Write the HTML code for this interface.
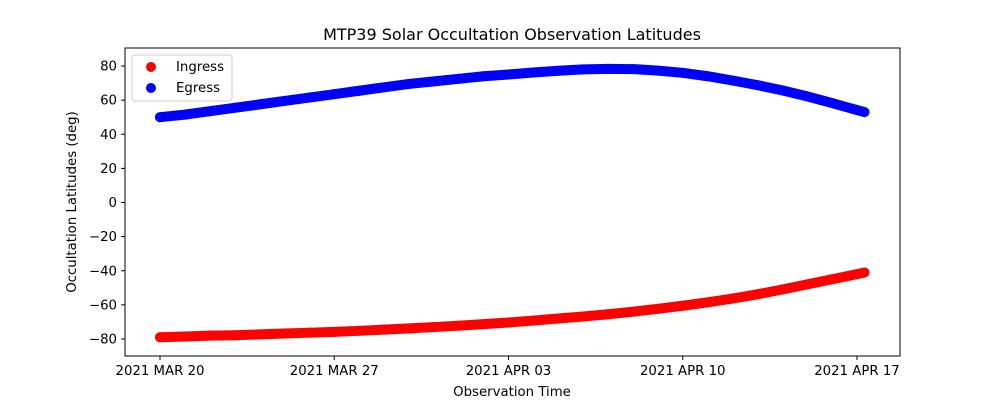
<!DOCTYPE html>
<html><head><meta charset="utf-8"><style>
body{margin:0;background:#fff;}
svg text{font-family:"DejaVu Sans","Liberation Sans",sans-serif;}
</style></head><body>
<svg id="chart" width="1000" height="400" xmlns="http://www.w3.org/2000/svg">
<rect width="1000" height="400" fill="#fff"/>
<text x="512" y="40" font-size="16" text-anchor="middle">MTP39 Solar Occultation Observation Latitudes</text>
<g id="plot"></g>
<rect x="125" y="48" width="775" height="308" fill="none" stroke="#000" stroke-width="1"/>
<g id="axes"></g>
<text x="512" y="396" font-size="13.3" text-anchor="middle">Observation Time</text>
<text transform="translate(76,202) rotate(-90)" font-size="13.3" text-anchor="middle">Occultation Latitudes (deg)</text>
<g>
<rect x="132" y="55" width="100" height="46" fill="#fff" stroke="#ccc" rx="3"/>
<g><circle cx="151" cy="67" r="5" fill="red"/><text x="176" y="71" font-size="13.3">Ingress</text></g>
<g><circle cx="151" cy="88" r="5" fill="blue"/><text x="176" y="92" font-size="13.3">Egress</text></g>
</g>
</svg>
<script>
const days=[0,1,2,3,4,5,6,7,8,9,10,11,12,13,14,15,16,17,18,19,20,21,22,23,24,25,26,27,28,28.3];
const egress=[50,51.5,53.5,55.5,57.5,59.5,61.5,63.5,65.5,67.5,69.5,71,72.5,74,75,76.2,77.2,78,78.3,78.2,77.3,76,74,71.5,68.8,65.7,62.2,58.3,54.2,53];
const ingress=[-79,-78.5,-78,-77.8,-77.3,-76.8,-76.3,-75.8,-75.2,-74.5,-73.8,-73,-72.2,-71.3,-70.3,-69.2,-68,-66.8,-65.5,-64,-62.3,-60.5,-58.5,-56.3,-53.8,-51,-48,-45,-42,-41];
const xTickDays=[0,7,14,21,28];
const xTickLabels=["2021 MAR 20","2021 MAR 27","2021 APR 03","2021 APR 10","2021 APR 17"];
const yTicks=[-80,-60,-40,-20,0,20,40,60,80];
const NS="http://www.w3.org/2000/svg";
const xs=d=>160+d*(857-160)/28;
const ys=v=>202.5-v*(273/160);
const plot=document.getElementById('plot'),axes=document.getElementById('axes');
function series(vals,color,name){
  const pts=days.map((d,i)=>xs(d)+','+ys(vals[i])).join(' ');
  const pl=document.createElementNS(NS,'polyline');
  pl.setAttribute('points',pts);pl.setAttribute('fill','none');pl.setAttribute('stroke',color);
  pl.setAttribute('stroke-width','10');pl.setAttribute('stroke-linecap','round');pl.setAttribute('stroke-linejoin','round');
  
  
  plot.appendChild(pl);
  days.forEach((d,i)=>{const c=document.createElementNS(NS,'circle');
    c.setAttribute('cx',xs(d));c.setAttribute('cy',ys(vals[i]));c.setAttribute('r','5');c.setAttribute('fill',color);
    
    
    plot.appendChild(c);});
}
series(ingress,'red','ingress');series(egress,'blue','egress');
xTickDays.forEach((d,i)=>{const x=xs(d);
  const l=document.createElementNS(NS,'line');l.setAttribute('x1',x);l.setAttribute('x2',x);l.setAttribute('y1',356);l.setAttribute('y2',360);l.setAttribute('stroke','#000');
  
  
  axes.appendChild(l);
  const t=document.createElementNS(NS,'text');t.setAttribute('x',x);t.setAttribute('y',375);t.setAttribute('font-size','13.3');t.setAttribute('text-anchor','middle');t.textContent=xTickLabels[i];
  
  
  axes.appendChild(t);});
yTicks.forEach(v=>{const y=ys(v);
  const l=document.createElementNS(NS,'line');l.setAttribute('x1',121);l.setAttribute('x2',125);l.setAttribute('y1',y);l.setAttribute('y2',y);l.setAttribute('stroke','#000');
  
  
  axes.appendChild(l);
  const t=document.createElementNS(NS,'text');t.setAttribute('x',117);t.setAttribute('y',y+4.5);t.setAttribute('font-size','13.3');t.setAttribute('text-anchor','end');t.textContent=v<0?'\u2212'+(-v):String(v);
  
  
  axes.appendChild(t);});
</script>
</body></html>
